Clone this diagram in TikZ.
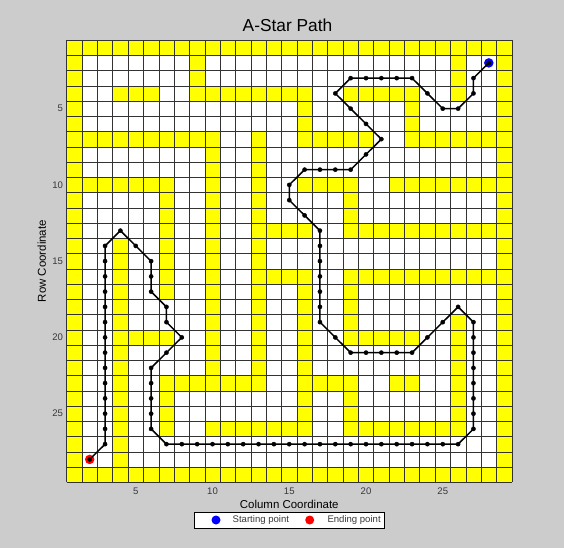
\documentclass[tikz,border=0pt]{standalone}
\usepackage{fontspec}
\setmainfont{Liberation Sans}
\definecolor{figgray}{HTML}{CCCCCC}
\definecolor{wall}{HTML}{FFFF00}
\definecolor{ticktext}{HTML}{383838}

\begin{document}
\begin{tikzpicture}[x=1bp,y=-1bp,
  cellwall/.style={fill=wall},
  gridline/.style={black!80,line width=0.5bp},
  route/.style={black,line width=1.5bp,line join=round},
  ticklabel/.style={text=ticktext,font=\fontsize{9.6}{11}\selectfont,inner sep=0pt},
  axislabel/.style={font=\fontsize{11.5}{13}\selectfont,inner sep=0pt},
  endpoint/.style={circle,inner sep=0pt,minimum size=9.5bp}]
  \fill[figgray] (0,0) rectangle (564,548);
  \useasboundingbox (0,0) rectangle (564,548);
  \node[font=\fontsize{17.4}{20}\selectfont,inner sep=0pt] (title) at (287.5,25) {A-Star Path};
  \begin{scope}[xshift=59bp,yshift=-32.4bp,x=15.35bp,y=-15.25bp]
    \fill[white] (0.5,0.5) rectangle (29.5,29.5);
    % maze walls, col/row to col/row
    \foreach \ca/\ra/\cb/\rb in {1/1/29/1, 1/29/29/29, 1/1/1/29, 29/1/29/29,
        9/2/9/4, 26/2/26/4, 4/4/6/4, 9/4/16/4, 19/4/23/4, 16/4/16/7, 23/4/23/7,
        1/7/10/7, 16/7/20/7, 23/7/29/7, 10/7/10/23, 13/7/13/23,
        1/10/7/10, 7/10/7/17, 16/10/19/10, 19/10/19/13, 22/10/29/10,
        13/13/16/13, 19/13/29/13, 4/14/4/28,
        13/16/16/16, 19/16/29/16, 16/16/16/26, 19/16/19/20,
        4/20/7/20, 19/20/23/20, 26/19/26/26,
        7/23/13/23, 7/23/7/26, 16/23/19/23, 19/23/19/26, 22/23/23/23,
        10/26/16/26, 19/26/26/26}
      \fill[cellwall] (\ca-0.5,\ra-0.5) rectangle (\cb+0.5,\rb+0.5);
    \foreach \i in {0,...,29} {
      \draw[gridline] (\i+0.5,0.5) -- (\i+0.5,29.5);
      \draw[gridline] (0.5,\i+0.5) -- (29.5,\i+0.5);
    }
    \node[endpoint,fill=blue] (start) at (28,2) {};
    \node[endpoint,fill=red] (goal) at (2,28) {};
    \draw[route] plot[mark=*,mark size=2.1bp,mark options={solid,line width=0.4bp}] coordinates {
      (28,2) (27,3) (27,4) (26,5) (25,5) (24,4) (23,3) (22,3) (21,3) (20,3)
      (19,3) (18,4) (19,5) (20,6) (21,7) (20,8) (19,9) (18,9) (17,9) (16,9)
      (15,10) (15,11) (16,12) (17,13) (17,14) (17,15) (17,16) (17,17) (17,18) (17,19)
      (18,20) (19,21) (20,21) (21,21) (22,21) (23,21) (24,20) (25,19) (26,18)
      (27,19) (27,20) (27,21) (27,22) (27,23) (27,24) (27,25) (27,26) (26,27)
      (25,27) (24,27) (23,27) (22,27) (21,27) (20,27) (19,27) (18,27) (17,27)
      (16,27) (15,27) (14,27) (13,27) (12,27) (11,27) (10,27) (9,27) (8,27) (7,27)
      (6,26) (6,25) (6,24) (6,23) (6,22) (7,21) (8,20) (7,19) (7,18)
      (6,17) (6,16) (6,15) (5,14) (4,13) (3,14) (3,15) (3,16) (3,17) (3,18)
      (3,19) (3,20) (3,21) (3,22) (3,23) (3,24) (3,25) (3,26) (3,27) (2,28)};
    \foreach \k in {5,10,...,25} {
      \node[ticklabel] (col\k) at (\k,30.07) {\k};
      \node[ticklabel,anchor=east] (row\k) at ([xshift=-3.5bp]0.5,\k) {\k};
    }
    \node[axislabel] (xlabel) at (15,30.96) {Column Coordinate};
    \node[axislabel,rotate=90] (ylabel) at (-1.13,15) {Row Coordinate};
  \end{scope}
  % legend
  \node[draw=black,fill=white,line width=0.6bp,minimum width=190bp,minimum height=16bp,inner sep=0pt] (legend) at (289,520) {};
  \node[endpoint,minimum size=9bp,fill=blue] (startkey) at (216,520) {};
  \node[ticklabel,anchor=west] (starttext) at (232.5,520) {Starting point};
  \node[endpoint,minimum size=9bp,fill=red] (goalkey) at (309.7,520) {};
  \node[ticklabel,anchor=west] (goaltext) at (327.3,520) {Ending point};
\end{tikzpicture}
\end{document}
